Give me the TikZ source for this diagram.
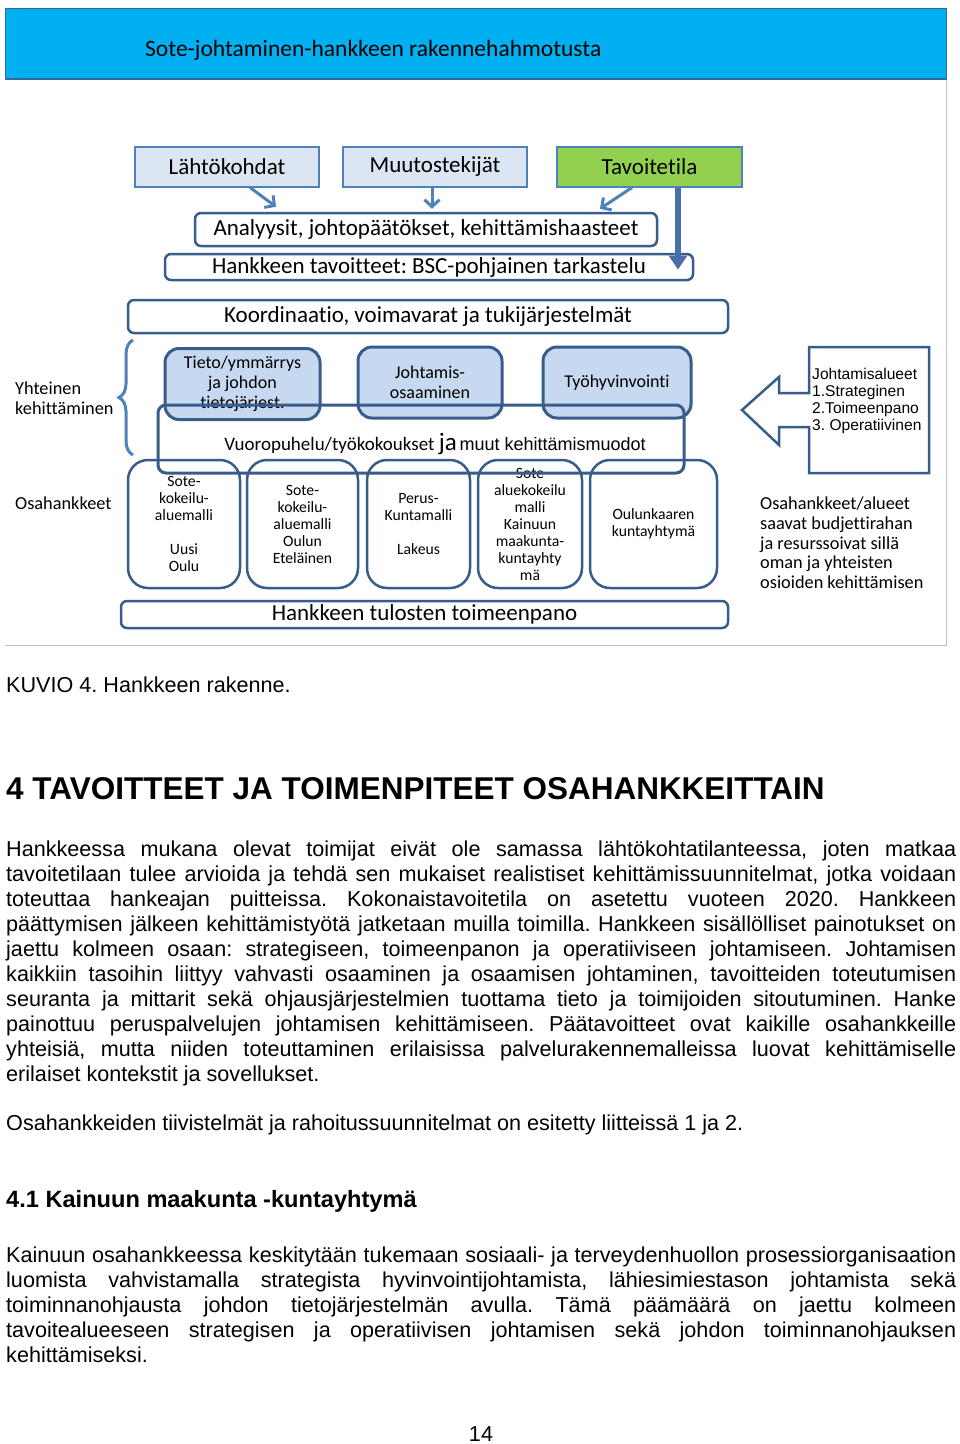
\documentclass[tikz,border=0pt]{standalone}
\usepackage{fontspec}
\setmainfont{Liberation Sans}
\newfontfamily\carl[Ligatures={NoCommon,NoRare,NoContextual}]{Carlito}
\usepackage{tikz}
\usetikzlibrary{positioning}
\usetikzlibrary{calc}
\usetikzlibrary{arrows.meta}
\usetikzlibrary{decorations.pathreplacing}
\frenchspacing

\definecolor{bannerblue}{HTML}{00B0F0}
\definecolor{bannerline}{HTML}{2F6B9A}
\definecolor{lineblue}{HTML}{4F81BD}
\definecolor{darkblue}{HTML}{385D8A}
\definecolor{arrowblue}{HTML}{4A6EA8}
\definecolor{paleblue}{HTML}{DCE6F2}
\definecolor{softblue}{HTML}{C6D9F1}
\definecolor{goalgreen}{HTML}{92D050}
\definecolor{framegray}{HTML}{BFBFBF}

\newcommand{\jline}[1]{\hbox to 950pt{#1}}

\tikzset{headbox/.style = {draw=lineblue, line width=2pt, fill=paleblue, inner sep=0pt,
                           minimum width=184pt, minimum height=40pt,
                           font=\carl\fontsize{23}{27}\selectfont}}
\tikzset{wbox/.style = {draw=darkblue, line width=2.5pt, fill=white, rounded corners=6pt,
                        inner sep=0pt, font=\carl\fontsize{23}{27}\selectfont}}
\tikzset{focusbox/.style = {draw=darkblue, line width=3pt, fill=softblue, rounded corners=14pt,
                            inner sep=0pt, minimum height=71pt, align=center,
                            font=\carl\fontsize{18}{20}\selectfont}}
\tikzset{partbox/.style = {draw=darkblue, line width=2.5pt, rounded corners=20pt,
                           inner sep=0pt, minimum height=128pt, align=center,
                           font=\carl\fontsize{15.7}{17}\selectfont}}
\tikzset{side/.style = {anchor=west, inner sep=0pt, align=left,
                        font=\carl\fontsize{18.3}{19.7}\selectfont}}
\tikzset{pointer/.style = {draw=lineblue, line width=3pt,
                           -{Straight Barb[length=7pt,width=15pt]}}}
\tikzset{bigpointer/.style = {draw=arrowblue, line width=6pt,
                              -{Triangle[length=14pt,width=18pt]}}}
\tikzset{body/.style = {anchor=base west, inner sep=0pt,
                        font=\fontsize{21.6}{25}\selectfont}}

\begin{document}
\begin{tikzpicture}[x=1pt, y=-1pt]
    \useasboundingbox (0,0) rectangle (960,1444);
    \fill[white] (0,0) rectangle (960,1444);

    % banner and frame
    \filldraw[fill=bannerblue, draw=bannerline, line width=1pt] (5,8) rectangle (946,79);
    \draw[bannerline, line width=2.5pt] (5,79) -- (946,79);
    \draw[framegray, line width=1pt] (5,645) -- (946,645) -- (946,80);
    \node[anchor=west, inner sep=0pt, font=\carl\fontsize{23.5}{27}\selectfont] (title) at (145,50)
        {Sote-johtaminen-hankkeen rakennehahmotusta};

    \node[headbox] (lahto) at (227,166.5) {Lähtökohdat};
    \node[headbox] (muutos) at (435,166.5) {Muutostekijät};
    \node[headbox, fill=goalgreen, minimum width=185pt] (tavoite) at (649.5,166.5) {Tavoitetila};

    \node[wbox, minimum width=462pt, minimum height=33pt] (analyysi) at (426,229.5)
        {Analyysit, johtopäätökset, kehittämishaasteet};
    \node[wbox, minimum width=528pt, minimum height=26pt] (bsc) at (429,267)
        {Hankkeen tavoitteet: BSC-pohjainen tarkastelu};
    \node[wbox, minimum width=600pt, minimum height=33pt] (koord) at (428,316.5)
        {Koordinaatio, voimavarat ja tukijärjestelmät};

    \draw[pointer] ($(lahto.south)+(23,0)$) -- ($(analyysi.north)+(-150,-5)$);
    \draw[pointer, shorten >=3pt] ($(muutos.south)+(-3,0)$) -- ($(analyysi.north)+(6,0)$);
    \draw[pointer] ($(tavoite.south)+(-17.5,0)$) -- ($(analyysi.north)+(174,-3)$);
    \draw[bigpointer] ($(tavoite.south)+(28.5,0)$) -- ($(tavoite.south)+(28.5,82)$);

    % yhteinen kehittaminen
    \draw[lineblue, line width=3pt, decorate, decoration={brace, amplitude=14pt}] (133,455) -- (133,340);
    \node[side] (yhteinen) at (15,398.5) {Yhteinen\\kehittäminen};

    \node[focusbox, minimum width=155pt] (tieto) at (242.5,384) {Tieto/ymmärrys\\ja johdon\\tietojärjest.};
    \node[focusbox, minimum width=144pt] (osaam) at (430,382.5) {Johtamis-\\osaaminen};
    \node[focusbox, minimum width=148pt] (tyohyv) at (617,382.5) {Työhyvinvointi};

    % osahankkeet
    \node[side] (osa) at (15,503) {Osahankkeet};
    \node[partbox, minimum width=112pt] (uusioulu) at (184,524) {Sote-\\kokeilu-\\aluemalli\\[17pt]Uusi\\Oulu};
    \node[partbox, minimum width=111pt] (etelainen) at (302.5,524) {Sote-\\kokeilu-\\aluemalli\\Oulun\\Eteläinen};
    \node[partbox, minimum width=103pt] (lakeus) at (418.5,524) {Perus-\\Kuntamalli\\[17pt]Lakeus};
    \node[partbox, minimum width=104pt] (kainuu) at (530,524) {Sote\\aluekokeilu\\malli\\Kainuun\\maakunta-\\kuntayhty\\mä};
    \node[partbox, minimum width=127pt] (oulunkaari) at (653.5,524) {Oulunkaaren\\kuntayhtymä};

    \node[draw=darkblue, line width=3pt, rounded corners=8pt, minimum width=526pt,
          minimum height=68pt] (vuoro) at (421,439) {};
    \node[inner sep=0pt] (vuorotxt) at (435,444)
        {{\carl\fontsize{19}{22}\selectfont Vuoropuhelu/työkokoukset {\fontsize{25}{25}\selectfont ja}}
         \fontsize{18}{22}\selectfont muut kehittämismuodot};

    % johtamisalueet
    \filldraw[draw=darkblue, fill=white, line width=2.5pt, line join=miter]
        (809,347) -- (929,347) -- (929,473) -- (809,473) -- (809,427) -- (779,427) -- (779,445)
        -- (742,410) -- (779,377) -- (779,393) -- (809,393) -- cycle;
    \node[anchor=west, inner sep=0pt, align=left, font=\fontsize{15.6}{17}\selectfont] (alueet) at (812,400.5)
        {Johtamisalueet\\1.Strateginen\\2.Toimeenpano\\3. Operatiivinen};

    \node[side] (budjetti) at (760,543)
        {Osahankkeet/alueet\\saavat budjettirahan\\ja resurssoivat sillä\\oman ja yhteisten\\osioiden kehittämisen};

    \node[wbox, minimum width=607pt, minimum height=27pt] (tulokset) at (424.5,614.5)
        {Hankkeen tulosten toimeenpano};

    % page text
    \node[body] (caption) at (6,692.5) {KUVIO 4. Hankkeen rakenne.};
    \node[body, font=\bfseries\fontsize{31.5}{36}\selectfont] (luku) at (6,799)
        {4 TAVOITTEET JA TOIMENPITEET OSAHANKKEITTAIN};
    \node[body] (para1) at (6,856.5) {\vtop{\lineskiplimit=-100pt
        \jline{Hankkeessa mukana olevat toimijat eivät ole samassa lähtökohtatilanteessa, joten matkaa}
        \jline{tavoitetilaan tulee arvioida ja tehdä sen mukaiset realistiset kehittämissuunnitelmat, jotka voidaan}
        \jline{toteuttaa hankeajan puitteissa. Kokonaistavoitetila on asetettu vuoteen 2020. Hankkeen}
        \jline{päättymisen jälkeen kehittämistyötä jatketaan muilla toimilla. Hankkeen sisällölliset painotukset on}
        \jline{jaettu kolmeen osaan: strategiseen, toimeenpanon ja operatiiviseen johtamiseen. Johtamisen}
        \jline{kaikkiin tasoihin liittyy vahvasti osaaminen ja osaamisen johtaminen, tavoitteiden toteutumisen}
        \jline{seuranta ja mittarit sekä ohjausjärjestelmien tuottama tieto ja toimijoiden sitoutuminen. Hanke}
        \jline{painottuu peruspalvelujen johtamisen kehittämiseen. Päätavoitteet ovat kaikille osahankkeille}
        \jline{yhteisiä, mutta niiden toteuttaminen erilaisissa palvelurakennemalleissa luovat kehittämiselle}
        \hbox{erilaiset kontekstit ja sovellukset.}}};
    \node[body] (para2) at (6,1130.5)
        {Osahankkeiden tiivistelmät ja rahoitussuunnitelmat on esitetty liitteissä 1 ja 2.};
    \node[body, font=\bfseries\fontsize{23.6}{28}\selectfont] (alaluku) at (6,1207.5)
        {4.1 Kainuun maakunta -kuntayhtymä};
    \node[body] (para3) at (6,1262.5) {\vtop{\lineskiplimit=-100pt
        \jline{Kainuun osahankkeessa keskitytään tukemaan sosiaali- ja terveydenhuollon prosessiorganisaation}
        \jline{luomista vahvistamalla strategista hyvinvointijohtamista, lähiesimiestason johtamista sekä}
        \jline{toiminnanohjausta johdon tietojärjestelmän avulla. Tämä päämäärä on jaettu kolmeen}
        \jline{tavoitealueeseen strategisen ja operatiivisen johtamisen sekä johdon toiminnanohjauksen}
        \hbox{kehittämiseksi.}}};
    \node[body, anchor=base] (sivu) at (481,1441) {14};
\end{tikzpicture}
\end{document}
